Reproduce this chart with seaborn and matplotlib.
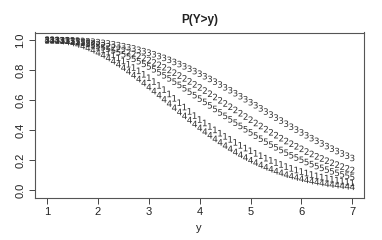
import pandas as pd
import seaborn as sns
import matplotlib.pyplot as plt

# y grid (x axis of the chart)
y_vals = [1.0, 1.1, 1.2, 1.3, 1.4, 1.5, 1.6, 1.7, 1.8, 1.9,
          2.0, 2.1, 2.2, 2.3, 2.4, 2.5, 2.6, 2.7, 2.8, 2.9,
          3.0, 3.1, 3.2, 3.3, 3.4, 3.5, 3.6, 3.7, 3.8, 3.9,
          4.0, 4.1, 4.2, 4.3, 4.4, 4.5, 4.6, 4.7, 4.8, 4.9,
          5.0, 5.1, 5.2, 5.3, 5.4, 5.5, 5.6, 5.7, 5.8, 5.9,
          6.0, 6.1, 6.2, 6.3, 6.4, 6.5, 6.6, 6.7, 6.8, 6.9,
          7.0]

# P(Y>y), one list per curve
p1 = [1.000, 1.000, 0.999, 0.998, 0.996, 0.993, 0.989, 0.983, 0.976, 0.965,
      0.952, 0.937, 0.920, 0.902, 0.882, 0.861, 0.839, 0.817, 0.795, 0.772,
      0.749, 0.724, 0.698, 0.670, 0.641, 0.612, 0.583, 0.554, 0.525, 0.497,
      0.471, 0.448, 0.425, 0.402, 0.380, 0.359, 0.339, 0.319, 0.299, 0.281,
      0.263, 0.246, 0.230, 0.214, 0.199, 0.185, 0.172, 0.158, 0.146, 0.135,
      0.125, 0.115, 0.105, 0.096, 0.088, 0.081, 0.074, 0.067, 0.061, 0.055,
      0.050]
p2 = [1.000, 1.000, 0.999, 0.998, 0.997, 0.995, 0.992, 0.989, 0.984, 0.979,
      0.973, 0.966, 0.959, 0.950, 0.941, 0.931, 0.920, 0.908, 0.895, 0.881,
      0.867, 0.851, 0.835, 0.819, 0.801, 0.783, 0.764, 0.745, 0.725, 0.705,
      0.685, 0.664, 0.643, 0.621, 0.599, 0.578, 0.556, 0.535, 0.513, 0.491,
      0.470, 0.448, 0.428, 0.407, 0.386, 0.367, 0.347, 0.328, 0.310, 0.293,
      0.276, 0.258, 0.242, 0.226, 0.212, 0.197, 0.183, 0.171, 0.158, 0.146,
      0.135]
p3 = [1.000, 1.000, 1.000, 0.999, 0.999, 0.998, 0.996, 0.994, 0.992, 0.989,
      0.986, 0.981, 0.977, 0.972, 0.966, 0.959, 0.952, 0.944, 0.935, 0.926,
      0.916, 0.905, 0.893, 0.881, 0.868, 0.854, 0.840, 0.825, 0.809, 0.793,
      0.776, 0.759, 0.741, 0.723, 0.704, 0.685, 0.666, 0.646, 0.626, 0.606,
      0.586, 0.566, 0.545, 0.524, 0.504, 0.484, 0.464, 0.443, 0.423, 0.404,
      0.385, 0.366, 0.347, 0.329, 0.312, 0.294, 0.277, 0.261, 0.245, 0.230,
      0.215]
p4 = [1.000, 0.999, 0.997, 0.993, 0.987, 0.980, 0.970, 0.960, 0.947, 0.932,
      0.916, 0.899, 0.880, 0.859, 0.838, 0.815, 0.791, 0.766, 0.740, 0.714,
      0.687, 0.660, 0.633, 0.605, 0.577, 0.549, 0.521, 0.495, 0.467, 0.441,
      0.415, 0.390, 0.366, 0.342, 0.319, 0.297, 0.276, 0.255, 0.236, 0.218,
      0.200, 0.184, 0.168, 0.153, 0.140, 0.127, 0.116, 0.104, 0.094, 0.085,
      0.077, 0.069, 0.061, 0.055, 0.049, 0.043, 0.038, 0.034, 0.030, 0.026,
      0.023]
p5 = [1.000, 1.000, 0.999, 0.998, 0.995, 0.992, 0.988, 0.983, 0.977, 0.969,
      0.961, 0.952, 0.942, 0.931, 0.918, 0.905, 0.890, 0.875, 0.859, 0.841,
      0.824, 0.805, 0.785, 0.765, 0.745, 0.723, 0.701, 0.679, 0.656, 0.633,
      0.610, 0.588, 0.565, 0.541, 0.518, 0.495, 0.472, 0.450, 0.428, 0.406,
      0.385, 0.364, 0.343, 0.323, 0.304, 0.286, 0.268, 0.250, 0.233, 0.218,
      0.203, 0.188, 0.174, 0.161, 0.149, 0.137, 0.126, 0.116, 0.106, 0.097,
      0.088]

series = {'1': p1, '2': p2, '3': p3, '4': p4, '5': p5}
x_ticks = [1, 2, 3, 4, 5, 6, 7]
y_ticks = [0.0, 0.2, 0.4, 0.6, 0.8, 1.0]

sns.set_style('white')
plt.rcParams['font.family'] = ['Liberation Sans', 'DejaVu Sans']

fig = plt.figure(figsize=(3.82, 2.40), dpi=100)
ax = fig.add_axes([35 / 382, 1 - 197.5 / 240, 328.5 / 382, 165 / 240])

for name, vals in series.items():
    df = pd.DataFrame({'y': y_vals, 'p': vals})
    sns.scatterplot(data=df, x='y', y='p', marker='$' + name + '$', s=22,
                    color='#333333', linewidth=0, edgecolor='none', ax=ax)

ax.set_xlim(0.76, 7.22)
ax.set_ylim(-0.048, 1.05)
ax.set_xticks(x_ticks)
ax.set_xticklabels([str(v) for v in x_ticks])
ax.set_yticks(y_ticks)
ax.set_yticklabels(['%.1f' % v for v in y_ticks], rotation=90, va='center')
ax.tick_params(direction='out', length=4, width=0.7, color='#444444',
               labelsize=8, labelcolor='#222222', pad=3,
               bottom=True, left=True)
for sp in ax.spines.values():
    sp.set_visible(True)
    sp.set_color('#555555')
    sp.set_linewidth(0.8)

ax.set_xlabel('y', fontsize=8, color='#222222', labelpad=4)
ax.set_ylabel('')
fig.text(0.524, 1 - 20 / 240, 'P(Y>y)', ha='center', va='center',
         fontsize=8.5, fontweight='bold', color='#222222')

fig.savefig('out.png', dpi=100)
